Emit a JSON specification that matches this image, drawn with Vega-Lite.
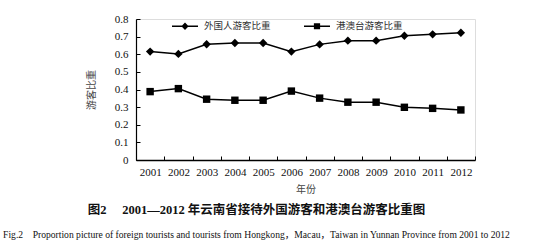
{
  "$schema": "https://vega.github.io/schema/vega-lite/v6.json",
  "width": 339,
  "height": 141,
  "autosize": {"type": "none"},
  "padding": {"left": 136, "top": 19, "right": 83, "bottom": 83},
  "background": "white",
  "title": {
    "text": "图2\u00a0\u00a0\u00a0\u00a0\u00a02001—2012\u00a0年云南省接待外国游客和港澳台游客比重图\u00a0\u00a0\u00a0\u00a0\u00a0\u00a0\u00a0",
    "subtitle": "Fig.2\u00a0\u00a0\u00a0\u00a0Proportion picture of foreign tourists and tourists from Hongkong，Macau，Taiwan in Yunnan Province from 2001 to 2012",
    "orient": "bottom",
    "anchor": "middle",
    "dx": -49,
    "offset": 10,
    "font": "Liberation Serif, Noto Sans CJK SC",
    "fontSize": 12.5,
    "fontWeight": "bold",
    "color": "#111",
    "subtitleFont": "Liberation Serif, Noto Sans CJK SC",
    "subtitleFontSize": 9.6,
    "subtitleColor": "#111",
    "subtitlePadding": 13
  },
  "data": {
    "values": [
      {"year": "2001", "series": "外国人游客比重", "value": 0.615},
      {"year": "2002", "series": "外国人游客比重", "value": 0.602},
      {"year": "2003", "series": "外国人游客比重", "value": 0.657},
      {"year": "2004", "series": "外国人游客比重", "value": 0.664},
      {"year": "2005", "series": "外国人游客比重", "value": 0.664},
      {"year": "2006", "series": "外国人游客比重", "value": 0.615},
      {"year": "2007", "series": "外国人游客比重", "value": 0.656},
      {"year": "2008", "series": "外国人游客比重", "value": 0.677},
      {"year": "2009", "series": "外国人游客比重", "value": 0.677},
      {"year": "2010", "series": "外国人游客比重", "value": 0.705},
      {"year": "2011", "series": "外国人游客比重", "value": 0.713},
      {"year": "2012", "series": "外国人游客比重", "value": 0.722},
      {"year": "2001", "series": "港澳台游客比重", "value": 0.388},
      {"year": "2002", "series": "港澳台游客比重", "value": 0.405},
      {"year": "2003", "series": "港澳台游客比重", "value": 0.345},
      {"year": "2004", "series": "港澳台游客比重", "value": 0.339},
      {"year": "2005", "series": "港澳台游客比重", "value": 0.339},
      {"year": "2006", "series": "港澳台游客比重", "value": 0.391},
      {"year": "2007", "series": "港澳台游客比重", "value": 0.351},
      {"year": "2008", "series": "港澳台游客比重", "value": 0.328},
      {"year": "2009", "series": "港澳台游客比重", "value": 0.328},
      {"year": "2010", "series": "港澳台游客比重", "value": 0.299},
      {"year": "2011", "series": "港澳台游客比重", "value": 0.293},
      {"year": "2012", "series": "港澳台游客比重", "value": 0.284}
    ]
  },
  "encoding": {
    "x": {
      "field": "year",
      "type": "ordinal",
      "bandPosition": 0.5,
      "scale": {"type": "band", "paddingInner": 0, "paddingOuter": 0},
      "title": "年份",
      "axis": {
        "labelAngle": 0,
        "labelFont": "Liberation Serif",
        "labelFontSize": 11,
        "labelColor": "#111",
        "labelPadding": 10,
        "tickBand": "extent",
        "tickSize": -4,
        "tickColor": "black",
        "tickWidth": 1,
        "domainColor": "black",
        "domainWidth": 1.5,
        "titleFont": "Noto Sans CJK SC",
        "titleFontSize": 10,
        "titleFontWeight": "normal",
        "titleColor": "#444",
        "titlePadding": 7
      }
    },
    "y": {
      "field": "value",
      "type": "quantitative",
      "scale": {"domain": [0, 0.8], "nice": false},
      "title": "游客比重",
      "axis": {
        "values": [0, 0.1, 0.2, 0.3, 0.4, 0.5, 0.6, 0.7, 0.8],
        "format": ".1~f",
        "grid": false,
        "labelFont": "Liberation Serif",
        "labelFontSize": 11,
        "labelColor": "#111",
        "labelPadding": 12,
        "tickSize": -4,
        "tickColor": "black",
        "domainColor": "black",
        "domainWidth": 1.2,
        "titleFont": "Noto Sans CJK SC",
        "titleFontSize": 10,
        "titleFontWeight": "normal",
        "titleColor": "#444",
        "titlePadding": 18
      }
    }
  },
  "layer": [
    {
      "mark": {"type": "line", "color": "black", "strokeWidth": 1.5},
      "encoding": {"detail": {"field": "series"}}
    },
    {
      "transform": [{"filter": "datum.series === '外国人游客比重'"}],
      "mark": {"type": "point", "shape": "diamond", "filled": true, "color": "black", "opacity": 1, "size": 70}
    },
    {
      "transform": [{"filter": "datum.series === '港澳台游客比重'"}],
      "mark": {"type": "point", "shape": "square", "filled": true, "color": "black", "opacity": 1, "size": 55}
    },
    {
      "transform": [{"filter": "false"}],
      "mark": {"type": "point", "filled": true, "color": "black", "opacity": 1},
      "encoding": {
        "shape": {
          "field": "series",
          "type": "nominal",
          "scale": {
            "domain": ["外国人游客比重", "港澳台游客比重"],
            "range": ["M-1,-0.06L1,-0.06L1,0.06L-1,0.06ZM0,-0.28L0.28,0L0,0.28L-0.28,0Z", "M-1,-0.06L1,-0.06L1,0.06L-1,0.06ZM-0.24,-0.24L0.24,-0.24L0.24,0.24L-0.24,0.24Z"]
          },
          "legend": {
            "title": null,
            "orient": "none",
            "legendX": 36,
            "legendY": -6,
            "direction": "horizontal",
            "columns": 2,
            "columnPadding": 33,
            "symbolSize": 676,
            "symbolOpacity": 1,
            "symbolFillColor": "black",
            "symbolStrokeWidth": 0,
            "labelOffset": 6,
            "labelFont": "Noto Sans CJK SC",
            "labelFontSize": 9.5,
            "labelColor": "#333"
          }
        }
      }
    }
  ]
}
